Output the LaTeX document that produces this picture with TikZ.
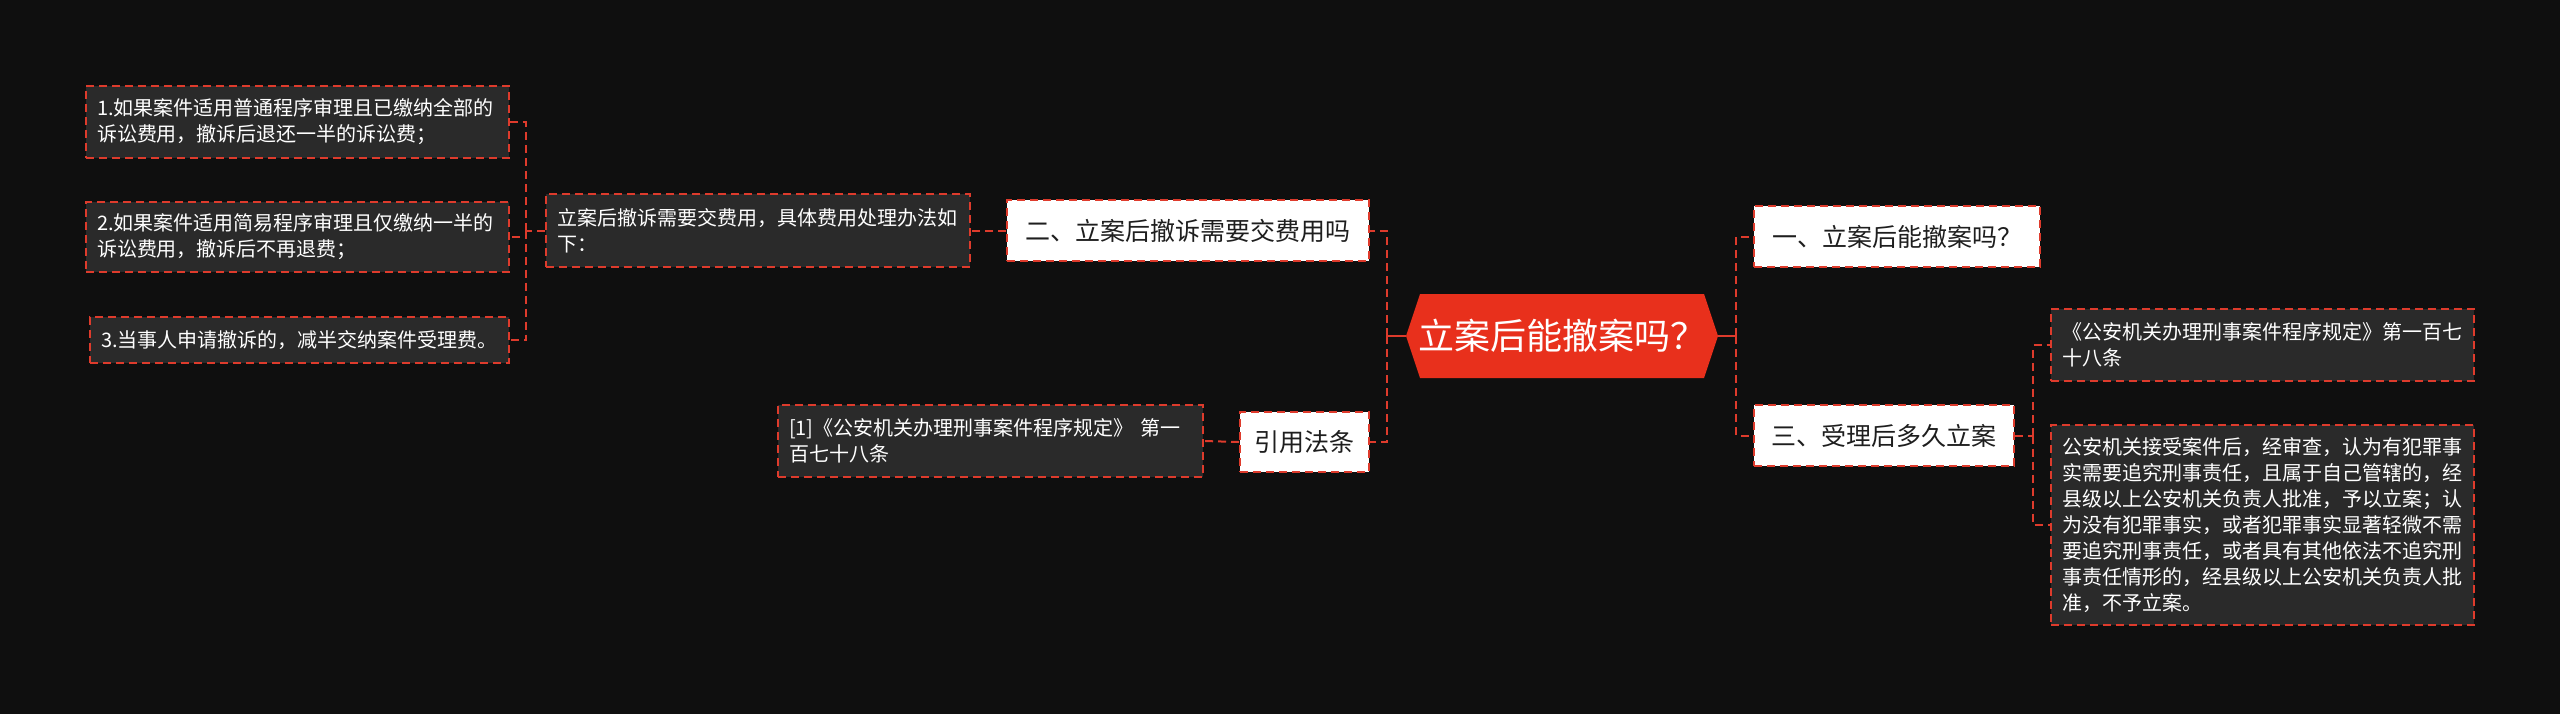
\documentclass[tikz,border=0pt]{standalone}
\usepackage{fontspec}
\newfontfamily\cjk{Noto Sans CJK SC}
\usetikzlibrary{calc}
\definecolor{bg}{HTML}{0F0F0F}
\definecolor{boxfill}{HTML}{2A2A2A}
\definecolor{redline}{HTML}{DE3B2C}
\definecolor{hexred}{HTML}{E8301C}
\definecolor{darktext}{HTML}{1E1E1E}
\begin{document}
\begin{tikzpicture}[x=0.5pt,y=-0.5pt,
  dbox/.style={draw=redline, line width=1pt, dash pattern=on 4pt off 2.5pt, fill=boxfill, text=white,
    font=\cjk\fontsize{10pt}{13pt}\selectfont, align=left, inner xsep=5.5pt, inner ysep=0pt},
  wbox/.style={draw=redline, line width=1pt, dash pattern=on 4pt off 2.5pt, fill=white, text=darktext,
    font=\cjk\fontsize{12.5pt}{15pt}\selectfont, inner sep=0pt, minimum height=30.5pt},
  conn/.style={draw=redline, line width=1pt, dash pattern=on 4pt off 2.5pt},
  sconn/.style={draw=redline, line width=1pt},
  centre/.style={font=\cjk\fontsize{18pt}{20pt}\selectfont, text=white, minimum width=156pt, minimum height=42pt, inner sep=0pt}
]
\useasboundingbox (0,0) rectangle (2560,713);
\fill[bg] (-20,-20) rectangle (2580,733);

% central hexagon
\fill[hexred] (1406,336) -- (1420,294) -- (1704,294) -- (1718,336) -- (1704,378) -- (1420,378) -- cycle;
\node[centre] (c) at (1562,336) {立案后能撤案吗？};

% level 1
\node[wbox, minimum width=181pt] (n2) at (1188,230.5) {二、立案后撤诉需要交费用吗};
\node[wbox, minimum width=64.5pt, minimum height=30pt] (law) at (1304.5,442) {引用法条};
\node[wbox, minimum width=143pt] (n1) at (1897,236.5) {一、立案后能撤案吗？};
\node[wbox, minimum width=130pt] (n3) at (1884,435.5) {三、受理后多久立案};

% level 2 left
\node[dbox, text width=201pt, minimum height=36.5pt] (a) at (758,230.5)
  {立案后撤诉需要交费用，具体费用处理办法如\\下：};
\node[dbox, text width=201.5pt, minimum height=36pt] (lawt) at (990.5,441)
  {[1]《公安机关办理刑事案件程序规定》~第一\\百七十八条};

% level 3 left
\node[dbox, text width=200.5pt, minimum height=36pt] (b1) at (297.5,122)
  {1.如果案件适用普通程序审理且已缴纳全部的\\诉讼费用，撤诉后退还一半的诉讼费；};
\node[dbox, text width=200.5pt, minimum height=35pt] (b2) at (297.5,237)
  {2.如果案件适用简易程序审理且仅缴纳一半的\\诉讼费用，撤诉后不再退费；};
\node[dbox, text width=198.5pt, minimum height=23pt] (b3) at (299.5,340)
  {3.当事人申请撤诉的，减半交纳案件受理费。};

% level 2 right
\node[dbox, text width=200.5pt, minimum height=36pt] (r1) at (2262.5,345)
  {《公安机关办理刑事案件程序规定》第一百七\\十八条};
\node[dbox, text width=200.5pt, minimum height=100pt] (r2) at (2262.5,525)
  {公安机关接受案件后，经审查，认为有犯罪事\\实需要追究刑事责任，且属于自己管辖的，经\\县级以上公安机关负责人批准，予以立案；认\\为没有犯罪事实，或者犯罪事实显著轻微不需\\要追究刑事责任，或者具有其他依法不追究刑\\事责任情形的，经县级以上公安机关负责人批\\准，不予立案。};

% connectors
\coordinate (jl) at ($(c.west)+(-19,0)$);
\coordinate (jr) at ($(c.east)+(18,0)$);
\draw[sconn] (c.west) -- (jl);
\draw[sconn] (c.east) -- (jr);
\draw[conn] (jl) |- (n2.east);
\draw[conn] (jl) |- (law.east);
\draw[conn] (jr) |- (n1.west);
\draw[conn] (jr) |- (n3.west);
\draw[conn] (n2.west) -- (a.east);
\draw[conn] (law.west) -- (lawt.east);

\coordinate (ja) at ($(a.west)+(-19,0)$);
\draw[conn] (a.west) -- (ja);
\draw[conn] (ja) |- (b1.east);
\draw[conn] (ja) |- (b2.east);
\draw[conn] (ja) |- (b3.east);

\coordinate (jb) at ($(n3.east)+(18,0)$);
\draw[conn] (n3.east) -- (jb);
\draw[conn] (jb) |- (r1.west);
\draw[conn] (jb) |- (r2.west);
\end{tikzpicture}
\end{document}
